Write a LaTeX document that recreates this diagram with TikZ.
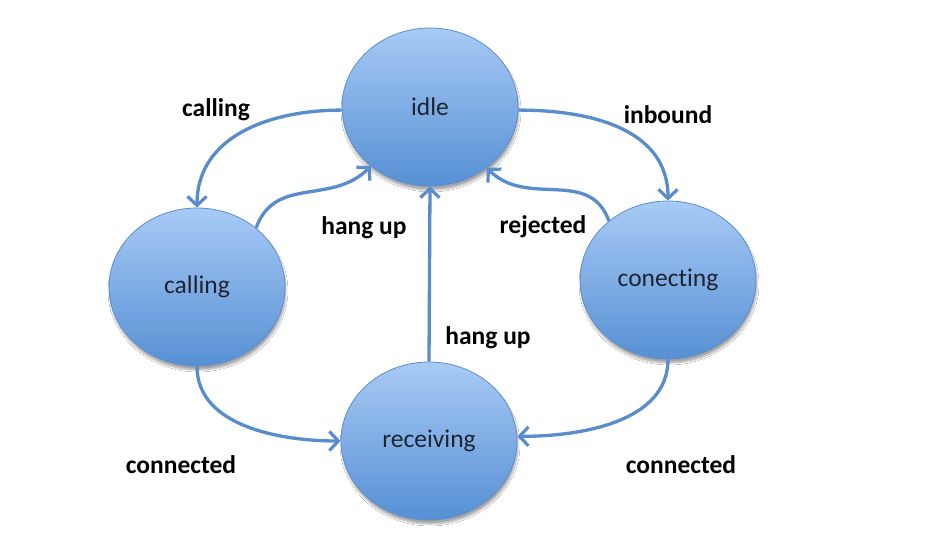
\documentclass[tikz,border=0pt]{standalone}
\usepackage{fontspec}
\setmainfont[Ligatures={NoCommon,NoRare,NoDiscretionary}]{Carlito}
\usetikzlibrary{arrows.meta,shapes.geometric,shadows.blur}
\definecolor{fillTop}{RGB}{168,202,245}
\definecolor{fillBot}{RGB}{86,144,212}
\definecolor{edgeBlue}{RGB}{92,142,205}
\definecolor{arrowBlue}{RGB}{88,140,204}
\definecolor{nodeText}{RGB}{30,36,48}
\begin{document}
\begin{tikzpicture}[x=1pt,y=-1pt,
  state/.style={ellipse, minimum width=176pt, minimum height=158pt, inner sep=0pt,
    draw=edgeBlue, line width=0.8pt, top color=fillTop, bottom color=fillBot,
    text=nodeText, font=\fontsize{25.5}{30}\selectfont,
    blur shadow={shadow xshift=1pt, shadow yshift=-4pt, shadow blur steps=6, shadow opacity=35}},
  lbl/.style={font=\fontsize{25.5}{30}\selectfont\bfseries, text=black, inner sep=0pt},
  trans/.style={draw=arrowBlue, line width=3.3pt,
    -{Straight Barb[length=9pt,width=19pt,line width=3.2pt]}}
]
\useasboundingbox[fill=white] (0,0) rectangle (928,558);

\node[state] (idle) at (430,107) {idle};
\node[state] (calling) at (197,287) {calling};
\node[state] (conn) at (668,280) {conecting};
\node[state] (recv) at (429,441) {receiving};

\draw[trans] (idle.182) to[out=180,in=90,looseness=1.05] (calling.90);
\draw[trans] (idle.358) to[out=0,in=90,looseness=1.05] (conn.90);
\draw[trans] (calling.45) to[out=70,in=225,looseness=1.1] (idle.225);
\draw[trans] (conn.135) to[out=110,in=315,looseness=1.1] (idle.313);
\draw[trans] (recv.north) -- (idle.south);
\draw[trans] (calling.270) to[out=270,in=180,looseness=0.95] (recv.180);
\draw[trans] (conn.270) to[out=270,in=0,looseness=0.95] (recv.3);

\node[lbl] (lcalling) at (216,110) {calling};
\node[lbl] (linbound) at (668,115) {inbound};
\node[lbl] (lhang1) at (364,228) {hang up};
\node[lbl] (lrej) at (543,227) {rejected};
\node[lbl] (lhang2) at (488,338) {hang up};
\node[lbl] (lconn1) at (181,465) {connected};
\node[lbl] (lconn2) at (681,465) {connected};
\end{tikzpicture}
\end{document}
